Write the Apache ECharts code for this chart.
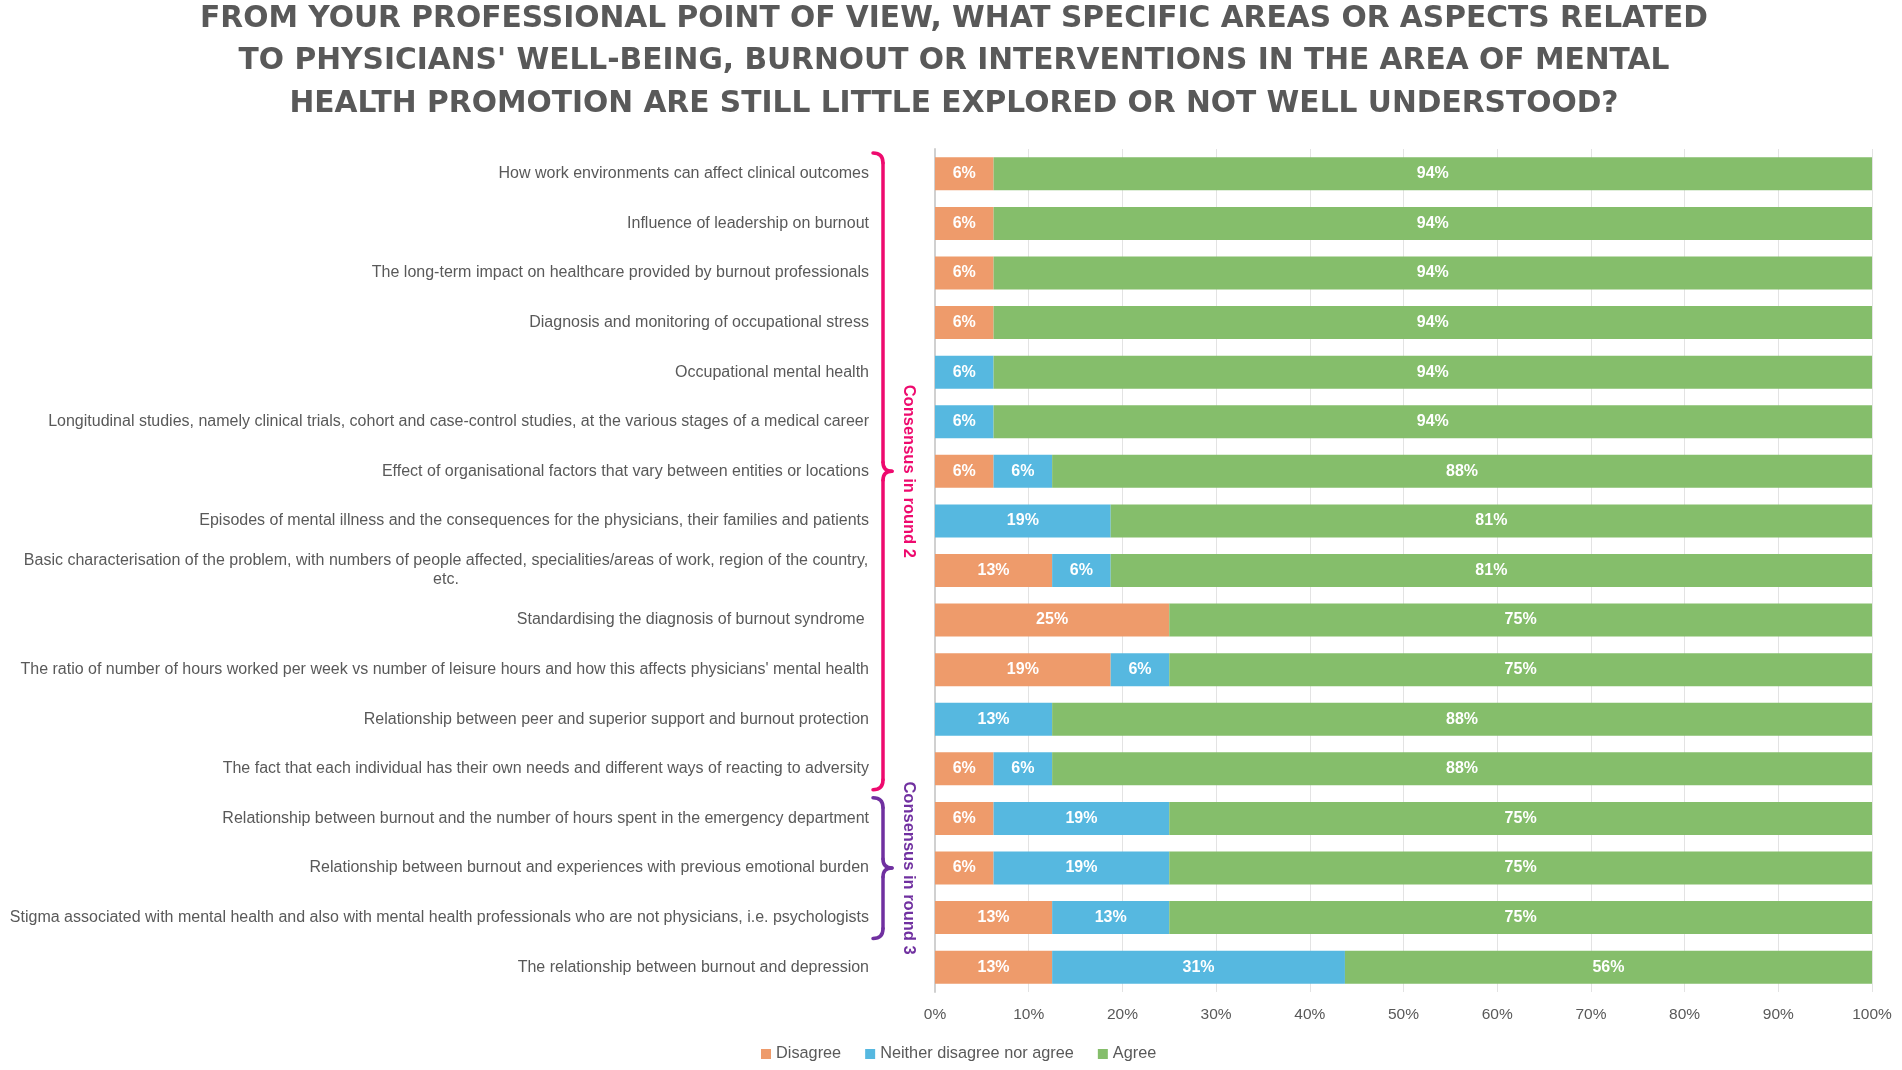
<!DOCTYPE html>
<html>
<head>
<meta charset="utf-8">
<script src="https://cdn.jsdelivr.net/npm/echarts@6/dist/echarts.min.js"></script>
<style>
html,body{margin:0;padding:0;background:#fff;}
#chart{width:1902px;height:1070px;}
</style>
</head>
<body>
<div id="chart"></div>
<script>
var titleText = "FROM YOUR PROFESSIONAL POINT OF VIEW, WHAT SPECIFIC AREAS OR ASPECTS RELATED\nTO PHYSICIANS' WELL-BEING, BURNOUT OR INTERVENTIONS IN THE AREA OF MENTAL\nHEALTH PROMOTION ARE STILL LITTLE EXPLORED OR NOT WELL UNDERSTOOD?";

var categories = [
  "How work environments can affect clinical outcomes",
  "Influence of leadership on burnout",
  "The long-term impact on healthcare provided by burnout professionals",
  "Diagnosis and monitoring of occupational stress",
  "Occupational mental health",
  "Longitudinal studies, namely clinical trials, cohort and case-control studies, at the various stages of a medical career",
  "Effect of organisational factors that vary between entities or locations",
  "Episodes of mental illness and the consequences for the physicians, their families and patients",
  "Basic characterisation of the problem, with numbers of people affected, specialities/areas of work, region of the country,\netc.",
  "Standardising the diagnosis of burnout syndrome ",
  "The ratio of number of hours worked per week vs number of leisure hours and how this affects physicians' mental health",
  "Relationship between peer and superior support and burnout protection",
  "The fact that each individual has their own needs and different ways of reacting to adversity",
  "Relationship between burnout and the number of hours spent in the emergency department",
  "Relationship between burnout and experiences with previous emotional burden",
  "Stigma associated with mental health and also with mental health professionals who are not physicians, i.e. psychologists",
  "The relationship between burnout and depression"
];

var seriesNames = ["Disagree", "Neither disagree nor agree", "Agree"];
var disagree = [6.25, 6.25, 6.25, 6.25, 0, 0, 6.25, 0, 12.5, 25, 18.75, 0, 6.25, 6.25, 6.25, 12.5, 12.5];
var neither  = [0, 0, 0, 0, 6.25, 6.25, 6.25, 18.75, 6.25, 0, 6.25, 12.5, 6.25, 18.75, 18.75, 12.5, 31.25];
var agree    = [93.75, 93.75, 93.75, 93.75, 93.75, 93.75, 87.5, 81.25, 81.25, 75, 75, 87.5, 87.5, 75, 75, 75, 56.25];

var xTicks = [0, 10, 20, 30, 40, 50, 60, 70, 80, 90, 100];

var groups = [
  { text: "Consensus in round 2", from: 0, to: 12, color: "#EE0A6E" },
  { text: "Consensus in round 3", from: 13, to: 15, color: "#7030A0" }
];

var colors = ["#EE9B6B", "#56B8E0", "#85BE6B"];
var gray = "#595959";
var FONT = "Liberation Sans";
var LABEL_SIZE = 16;

// measure widest line of multi-line labels so extra lines can be centred under it
var measureCtx = document.createElement('canvas').getContext('2d');
measureCtx.font = LABEL_SIZE + 'px "' + FONT + '"';

var chart = echarts.init(document.getElementById('chart'));

function mkSeries(name, data, color) {
  return {
    name: name,
    type: 'bar',
    stack: 'total',
    data: data,
    barWidth: 33,
    itemStyle: { color: color },
    label: {
      show: true,
      position: 'inside',
      color: '#ffffff',
      fontWeight: 'bold',
      fontSize: 16,
      fontFamily: FONT,
      formatter: function (p) { return p.value > 0 ? Math.round(p.value) + '%' : ''; }
    },
    emphasis: { disabled: true }
  };
}

var richStyles = {};
var labelMap = {};
categories.forEach(function (c, i) {
  var lines = c.split('\n');
  if (lines.length > 1) {
    var w = 0;
    lines.forEach(function (l) { w = Math.max(w, measureCtx.measureText(l).width); });
    var key = 'm' + i;
    richStyles[key] = { width: Math.ceil(w) + 1, align: 'center', fontFamily: FONT, fontSize: LABEL_SIZE, color: gray, lineHeight: 19 };
    labelMap[c] = lines.map(function (l) { return '{' + key + '|' + l + '}'; }).join('\n');
  }
});

var option = {
  animation: false,
  backgroundColor: '#ffffff',
  title: {
    text: titleText,
    left: 954,
    top: -2,
    padding: 0,
    textAlign: 'center',
    textStyle: {
      fontFamily: 'DejaVu Sans',
      fontWeight: 'bold',
      fontSize: 29.7,
      lineHeight: 42.5,
      color: gray,
      align: 'center'
    }
  },
  legend: {
    data: seriesNames,
    left: 756,
    top: 1041,
    itemWidth: 10,
    itemHeight: 10,
    itemGap: 24,
    icon: 'rect',
    textStyle: { fontFamily: FONT, fontSize: 16.3, color: gray }
  },
  grid: { left: 935, right: 30, top: 149, bottom: 78, containLabel: false },
  xAxis: {
    type: 'value',
    min: 0,
    max: 100,
    interval: 10,
    axisLine: { show: false },
    axisTick: { show: false },
    splitLine: { show: true, lineStyle: { color: '#E3E3E3', width: 1 } },
    axisLabel: {
      margin: 15,
      fontFamily: FONT,
      fontSize: 15.5,
      color: gray,
      formatter: function (v) { return xTicks.indexOf(v) >= 0 ? v + '%' : ''; }
    }
  },
  yAxis: {
    type: 'category',
    data: categories,
    inverse: true,
    axisTick: { show: false },
    axisLine: { show: true, lineStyle: { color: '#D0D0D0', width: 2 } },
    axisLabel: {
      margin: 66,
      fontFamily: FONT,
      fontSize: LABEL_SIZE,
      color: gray,
      lineHeight: 19,
      formatter: function (v) { return labelMap[v] || v; },
      rich: richStyles
    }
  },
  series: [
    mkSeries(seriesNames[0], disagree, colors[0]),
    mkSeries(seriesNames[1], neither, colors[1]),
    mkSeries(seriesNames[2], agree, colors[2])
  ]
};

chart.setOption(option);

function braceParts(x, y0, y1, color) {
  var ym = (y0 + y1) / 2;
  var st = { stroke: color, lineWidth: 3.5, lineCap: 'round', fill: 'none' };
  function bez(ax, ay, bx, by, cx, cy) {
    return { type: 'bezierCurve', silent: true, shape: { x1: ax, y1: ay, x2: bx, y2: by, cpx1: cx, cpy1: cy }, style: st };
  }
  function ln(ax, ay, bx, by) {
    return { type: 'line', silent: true, shape: { x1: ax, y1: ay, x2: bx, y2: by }, style: st };
  }
  return [
    bez(x - 10, y0, x, y0 + 10, x, y0),
    ln(x, y0 + 10, x, ym - 9),
    bez(x, ym - 9, x + 9, ym, x, ym),
    bez(x + 9, ym, x, ym + 9, x, ym),
    ln(x, ym + 9, x, y1 - 10),
    bez(x, y1 - 10, x - 10, y1, x, y1)
  ];
}

var band = (1070 - 149 - 78) / categories.length;
var gfx = [];
groups.forEach(function (g) {
  var yTop = chart.convertToPixel({ yAxisIndex: 0 }, categories[g.from]) - band / 2 + 4;
  var yBot = chart.convertToPixel({ yAxisIndex: 0 }, categories[g.to]) + band / 2 - 4;
  gfx = gfx.concat(braceParts(883, yTop, yBot, g.color));
  gfx.push({
    type: 'text',
    x: 909,
    y: (yTop + yBot) / 2,
    rotation: -Math.PI / 2,
    silent: true,
    style: {
      text: g.text,
      fill: g.color,
      font: 'bold 16.5px "' + FONT + '"',
      align: 'center',
      verticalAlign: 'middle'
    }
  });
});
chart.setOption({ graphic: gfx });
</script>
</body>
</html>
